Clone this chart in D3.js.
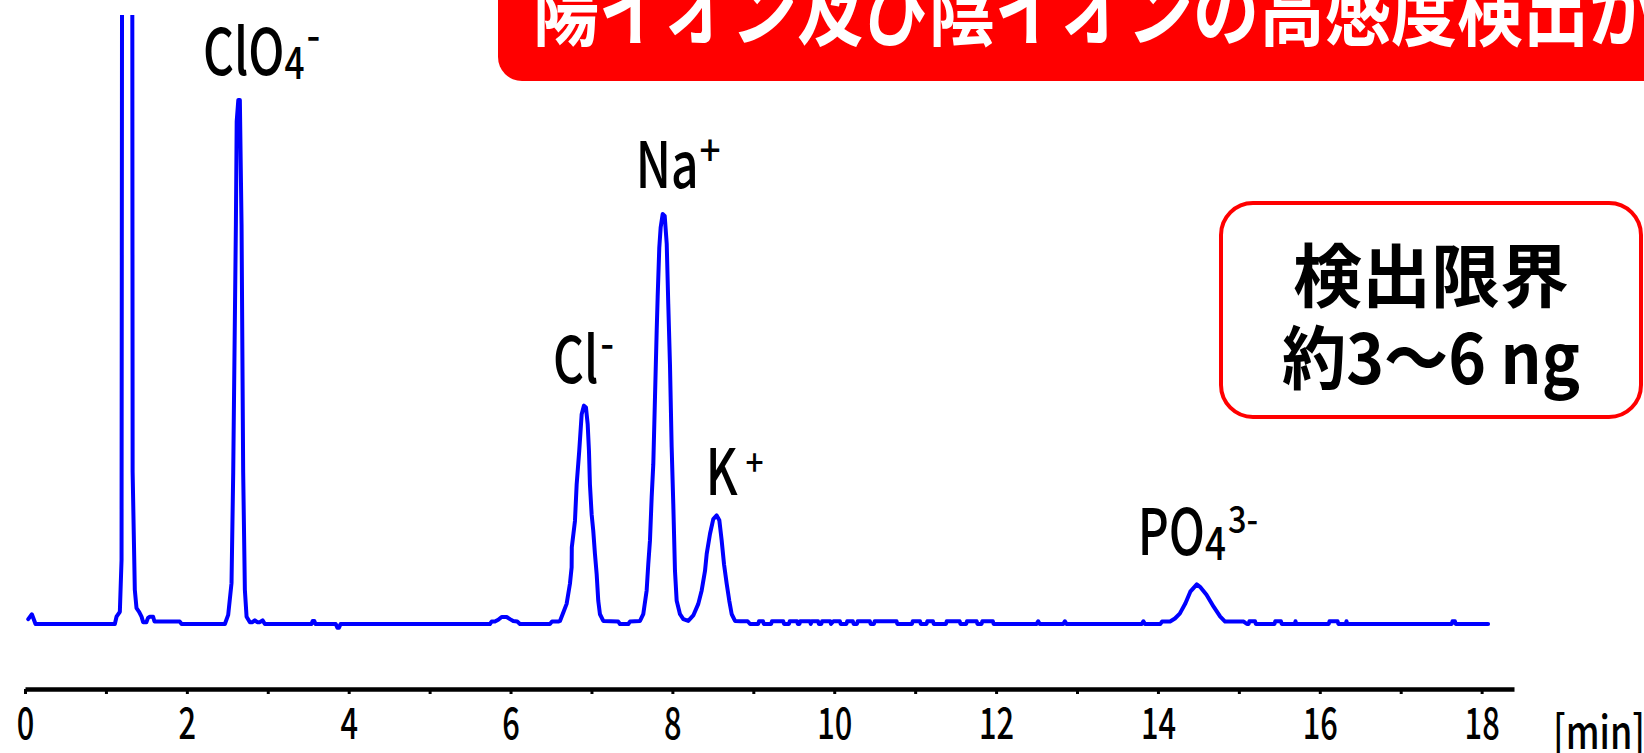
<!DOCTYPE html>
<html>
<head>
<meta charset="utf-8">
<script src="https://cdn.jsdelivr.net/npm/d3@7"></script>
<style>
  html, body { margin: 0; padding: 0; background: #fff; overflow: hidden; }
  svg { display: block; }
</style>
</head>
<body>
<svg id="chart" width="1644" height="753"></svg>
<script>
// ---- Chromatogram trace: [retention time (min), signal] ----
const traceInjection = [[0.04,0.8],[0.085,1.6],[0.13,0],[1.11,0],[1.131,1.2],[1.172,2.0],[1.193,10.5],[1.27,1200],[1.33,24.9],[1.357,5.6],[1.378,2.6],[1.41,2.0],[1.44,1.2],[1.46,0.3],[1.50,0.3],[1.52,1.0],[1.543,1.2],[1.583,1.2],[1.60,0.4],[1.913,0.4],[1.935,0]];
const traceClO4 = [[2.47,0],[2.511,1.5],[2.552,6.7],[2.573,24.9],[2.606,65.5],[2.616,82.4],[2.636,85.9],[2.655,85.9],[2.676,65.5],[2.696,24.9],[2.717,5.6],[2.738,1.2],[2.779,0.3],[2.81,0.3],[2.84,0.6],[2.87,0.3],[2.902,0.3],[2.936,0.6],[2.964,0]];
const traceMid = [[3.54,0],[3.555,0.5],[3.575,0.5],[3.59,0],[3.84,0],[3.86,-0.6],[3.88,-0.6],[3.90,0],[5.745,0],[5.766,0.4],[5.807,0.4],[5.848,0.7],[5.89,1.15],[5.952,1.15],[5.993,0.8],[6.033,0.5],[6.083,0.4],[6.116,0],[6.487,0],[6.512,0.4],[6.59,0.4]];
const traceClNaK = [[6.611,0.5],[6.652,1.9],[6.693,3.3],[6.734,6.6],[6.755,9.3],[6.757,12.6],[6.796,16.9],[6.817,22.9],[6.849,28.4],[6.879,34.4],[6.907,35.8],[6.932,35.5],[6.953,32.8],[6.969,28.4],[6.981,22.9],[7.002,18.0],[7.022,15.3],[7.043,11.5],[7.064,8.2],[7.084,3.8],[7.105,1.6],[7.146,0.5],[7.331,0.4],[7.352,0],[7.455,0],[7.476,0.4],[7.60,0.5],[7.64,1.6],[7.682,5.5],[7.702,9.8],[7.723,13.7],[7.744,20.8],[7.764,26.2],[7.785,37.2],[7.806,48.1],[7.818,53.6],[7.838,61.7],[7.855,65.0],[7.88,67.2],[7.905,66.9],[7.93,62.3],[7.949,52.5],[7.97,42.6],[7.991,29.0],[8.011,19.7],[8.032,8.7],[8.053,3.8],[8.094,1.6],[8.135,0.8],[8.196,0.5],[8.258,1.4],[8.32,3.3],[8.362,5.5],[8.403,8.7],[8.424,11.5],[8.465,14.8],[8.505,17.2],[8.547,17.8],[8.58,17.0],[8.609,13.7],[8.638,9.8],[8.671,6.6],[8.703,3.8],[8.733,1.6],[8.774,0.5],[8.84,0.45],[8.93,0.45],[8.96,0]];
const traceBaseline = [[9.06,0],[9.07,0.45],[9.12,0.45],[9.13,0],[9.22,0],[9.23,0.45],[9.37,0.45],[9.38,0],[9.44,0],[9.45,0.45],[9.54,0.45],[9.55,0],[9.57,0],[9.58,0.45],[9.70,0.45],[9.71,0],[9.72,0.45],[9.80,0.45],[9.81,0],[9.84,0],[9.85,0.45],[9.95,0.45],[9.96,0],[9.99,0.45],[10.07,0.45],[10.08,0],[10.15,0],[10.16,0.45],[10.23,0.45],[10.24,0],[10.28,0],[10.29,0.45],[10.44,0.45],[10.45,0],[10.49,0],[10.50,0.45],[10.77,0.45],[10.78,0],[10.96,0],[10.97,0.45],[11.06,0.45],[11.07,0],[11.14,0],[11.15,0.45],[11.22,0.45],[11.23,0],[11.38,0],[11.39,0.45],[11.55,0.45],[11.56,0],[11.63,0],[11.64,0.45],[11.76,0.45],[11.77,0],[11.82,0],[11.83,0.45],[11.96,0.45],[11.97,0],[12.50,0],[12.52,0.45],[12.54,0],[12.83,0],[12.85,0.45],[12.87,0],[13.80,0],[13.82,0.45],[13.84,0]];
const tracePO4 = [[14.03,0],[14.05,0.4],[14.15,0.4],[14.21,0.9],[14.27,1.7],[14.34,3.4],[14.40,5.3],[14.48,6.5],[14.52,6.1],[14.60,4.8],[14.69,2.8],[14.77,1.2],[14.83,0.4],[15.06,0.4],[15.10,0]];
const traceEnd = [[15.12,0],[15.13,0.45],[15.20,0.45],[15.21,0],[15.44,0],[15.45,0.45],[15.52,0.45],[15.53,0],[15.69,0],[15.70,0.45],[15.71,0],[16.11,0],[16.12,0.45],[16.22,0.45],[16.23,0],[16.32,0],[16.33,0.45],[16.34,0],[17.63,0],[17.64,0.45],[17.67,0.45],[17.68,0],[18.08,0]];

// ---- Peak labels ----
const ionBase   = ["ClO", "Cl", "Na", "K", "PO"];
const ionSub    = ["4", "", "", "", "4"];
const ionCharge = ["-", "-", "+", "+", "3-"];
const ionTime   = [2.645, 6.907, 7.88, 8.547, 14.48];
const ionHeight = [85.9, 35.8, 67.2, 17.8, 6.5];

// ---- Axis ----
const minuteTicks = [0,1,2,3,4,5,6,7,8,9,10,11,12,13,14,15,16,17,18];
const labeledMinutes = [0,2,4,6,8,10,12,14,16,18];
const axisUnit = "[min]";

// ---- Captions ----
const titleText = "陽イオン及び陰イオンの高感度検出が";
const limitLines = ["検出限界", "約3〜6 ng"];

const FONT = "'Noto Sans CJK JP', 'Noto Sans', sans-serif";
const RED = "#ff0000";
const BLUE = "#0000ff";

const svg = d3.select("#chart");
const W = 1644, H = 753;

const x = d3.scaleLinear().domain([0, 18.4]).range([25, 1514]);
const y = d3.scaleLinear().domain([0, 100]).range([624, 14]);

// title banner (runs off the top/right edge)
svg.append("rect")
  .attr("x", 498).attr("y", -60).attr("width", 1300).attr("height", 141)
  .attr("rx", 24).attr("fill", RED);
svg.append("text")
  .attr("transform", "translate(533,39) scale(0.825,1)")
  .attr("font-family", FONT).attr("font-weight", 700).attr("font-size", 80)
  .attr("fill", "#fff")
  .text(titleText);

// trace
svg.append("clipPath").attr("id", "plotClip")
  .append("rect").attr("x", 0).attr("y", 15).attr("width", W).attr("height", H - 15);

const trace = [].concat(traceInjection, traceClO4, traceMid, traceClNaK, traceBaseline, tracePO4, traceEnd);
const line = d3.line().x(d => x(d[0])).y(d => y(d[1]));
svg.append("path")
  .datum(trace)
  .attr("clip-path", "url(#plotClip)")
  .attr("d", line)
  .attr("fill", "none")
  .attr("stroke", BLUE)
  .attr("stroke-width", 4)
  .attr("stroke-linejoin", "round")
  .attr("stroke-linecap", "round");

// x axis
const axisG = svg.append("g")
  .attr("transform", "translate(0,689)")
  .call(d3.axisBottom(x)
    .tickValues(minuteTicks)
    .tickSize(5)
    .tickSizeOuter(0)
    .tickFormat(d => labeledMinutes.includes(d) ? String(d) : ""));
axisG.select(".domain").attr("stroke", "#000").attr("stroke-width", 4.5);
axisG.selectAll(".tick line").attr("stroke", "#000").attr("stroke-width", 3);
axisG.selectAll(".tick text")
  .attr("font-family", FONT).attr("font-weight", 500).attr("font-size", 44).attr("fill", "#000")
  .attr("y", 50).attr("dy", 0)
  .attr("transform", "scale(0.7,1)");

svg.append("text")
  .attr("transform", "translate(1553,749) scale(0.78,1)")
  .attr("font-family", FONT).attr("font-weight", 500).attr("font-size", 46).attr("fill", "#000")
  .text(axisUnit);

// peak labels: condensed main symbol, then subscript and charge placed after it
const SX = 0.75;
const layout = [
  { dx: -36, gap: 25, subSize: 44, subDy: 4,  supSize: 44, supDx: 2, supDy: -24 },
  { dx: -31, gap: 23, subSize: 0,  subDy: 0,  supSize: 44, supDx: 2, supDy: -24 },
  { dx: -27, gap: 26, subSize: 0,  subDy: 0,  supSize: 42, supDx: 1, supDy: -22 },
  { dx: -11, gap: 20, subSize: 0,  subDy: 0,  supSize: 36, supDx: 8, supDy: -19 },
  { dx: -59, gap: 29, subSize: 46, subDy: 5,  supSize: 37, supDx: 2, supDy: -22 }
];
const labelG = svg.append("g").attr("font-family", FONT).attr("font-weight", 500).attr("fill", "#000");
ionBase.forEach((b, i) => {
  const L = layout[i];
  const g = labelG.append("g")
    .attr("transform", `translate(${x(ionTime[i]) + L.dx},${y(ionHeight[i]) - L.gap})`);
  const main = g.append("text").attr("font-size", 64)
    .attr("transform", `scale(${SX},1)`).text(b);
  let cx = main.node().getComputedTextLength() * SX;
  if (ionSub[i]) {
    const s = g.append("text").attr("font-size", L.subSize)
      .attr("transform", `translate(${cx},${L.subDy}) scale(0.8,1)`).text(ionSub[i]);
    cx += s.node().getComputedTextLength() * 0.8;
  }
  g.append("text").attr("font-size", L.supSize)
    .attr("transform", `translate(${cx + L.supDx},${L.supDy}) scale(0.88,1)`)
    .text(ionCharge[i]);
});

// detection-limit box
svg.append("rect")
  .attr("x", 1221).attr("y", 203).attr("width", 420).attr("height", 214)
  .attr("rx", 32).attr("fill", "#fff").attr("stroke", RED).attr("stroke-width", 4);
const limitG = svg.append("g").attr("font-family", FONT).attr("font-weight", 700)
  .attr("font-size", 69).attr("fill", "#000").attr("text-anchor", "middle");
limitG.selectAll("text").data(limitLines).join("text")
  .attr("transform", (d, i) => `translate(1431,${302 + i * 82}) scale(${i ? 0.93 : 1},1)`)
  .text(d => d);
</script>
</body>
</html>
